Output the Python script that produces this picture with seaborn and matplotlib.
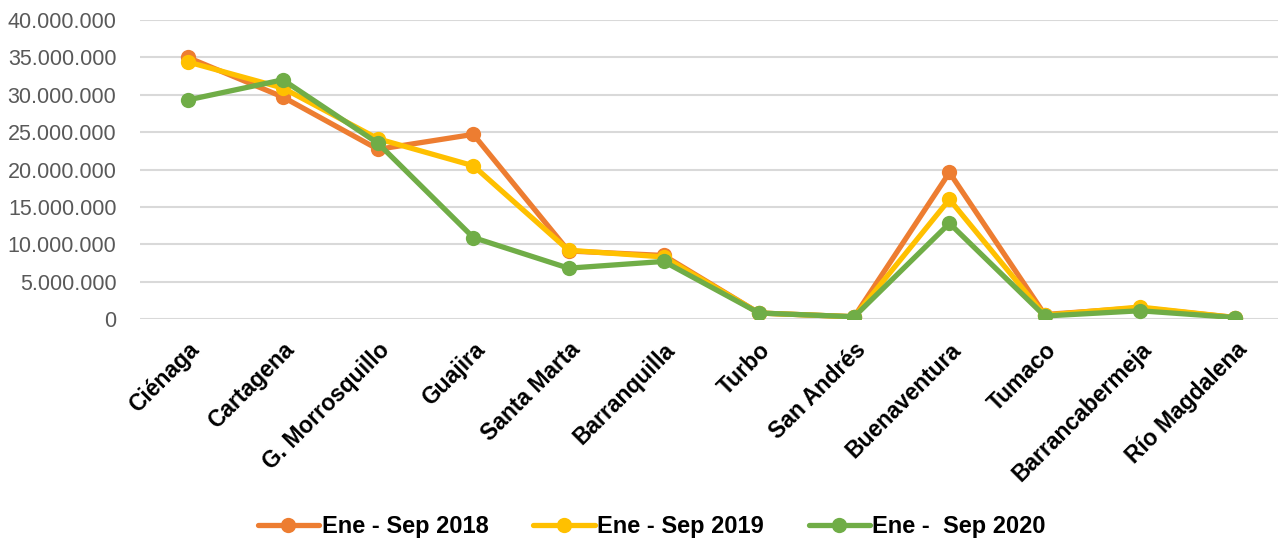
import pandas as pd
import matplotlib.pyplot as plt
import matplotlib.ticker as mticker
import seaborn as sns

puertos = ['Ciénaga', 'Cartagena', 'G. Morrosquillo', 'Guajira', 'Santa Marta',
           'Barranquilla', 'Turbo', 'San Andrés', 'Buenaventura', 'Tumaco',
           'Barrancabermeja', 'Río Magdalena']
ene_sep_2018 = [35.0e6, 29.7e6, 22.7e6, 24.7e6, 9.1e6, 8.5e6, 0.8e6, 0.3e6, 19.6e6, 0.6e6, 1.5e6, 0.2e6]
ene_sep_2019 = [34.4e6, 30.9e6, 24.1e6, 20.5e6, 9.2e6, 8.3e6, 0.8e6, 0.3e6, 16.0e6, 0.5e6, 1.6e6, 0.2e6]
ene_sep_2020 = [29.3e6, 32.0e6, 23.5e6, 10.9e6, 6.8e6, 7.7e6, 0.8e6, 0.3e6, 12.8e6, 0.4e6, 1.1e6, 0.2e6]
series = ['Ene - Sep 2018', 'Ene - Sep 2019', 'Ene -  Sep 2020']
colores = ['#ED7D31', '#FFC000', '#70AD47']

df = pd.DataFrame({
    'puerto': puertos * 3,
    'valor': ene_sep_2018 + ene_sep_2019 + ene_sep_2020,
    'serie': [series[0]] * 12 + [series[1]] * 12 + [series[2]] * 12,
})
df['x'] = list(range(12)) * 3

sns.set_style('white')
plt.rcParams['font.family'] = ['Liberation Sans', 'DejaVu Sans']
plt.rcParams['text.color'] = 'black'

fig = plt.figure(figsize=(12.78, 5.43), dpi=100)
ax = fig.add_axes([140 / 1278, 1 - 319 / 543, 1 - 140 / 1278, (319 - 20) / 543])

sns.lineplot(data=df, x='x', y='valor', hue='serie', palette=colores, ax=ax,
             marker='o', markersize=11, markeredgewidth=0, linewidth=3.8,
             legend=False, zorder=3)

ax.set_xlim(-0.5, 11.45)
ax.set_ylim(0, 40e6)
ax.set_yticks(range(0, 40000001, 5000000))
ax.yaxis.set_major_formatter(mticker.FuncFormatter(lambda v, p: f'{int(v):,}'.replace(',', '.')))
ax.grid(axis='y', color='#D9D9D9', linewidth=1.5, zorder=0)
ax.set_axisbelow(True)
for s in ax.spines.values():
    s.set_visible(False)
ax.tick_params(axis='y', length=0, pad=17, labelsize=15.5, labelcolor='#595959')
ax.tick_params(axis='x', length=0, pad=14)
ax.set_xticks(range(12))
ax.set_xticklabels(puertos, rotation=45, ha='right', rotation_mode='anchor',
                   fontsize=16.5, fontweight='bold', color='black')
ax.set_xlabel('')
ax.set_ylabel('')

handles = [plt.Line2D([], [], color=c, linewidth=3.8, marker='o', markersize=11,
                      markeredgewidth=0) for c in colores]
fig.legend(handles, series, loc='center', bbox_to_anchor=(0.51, 1 - 527 / 543), ncol=3,
           frameon=False, handlelength=2.6, handletextpad=0.1, columnspacing=1.9,
           prop={'size': 17, 'weight': 'bold'})

fig.savefig('out.png', dpi=100)
